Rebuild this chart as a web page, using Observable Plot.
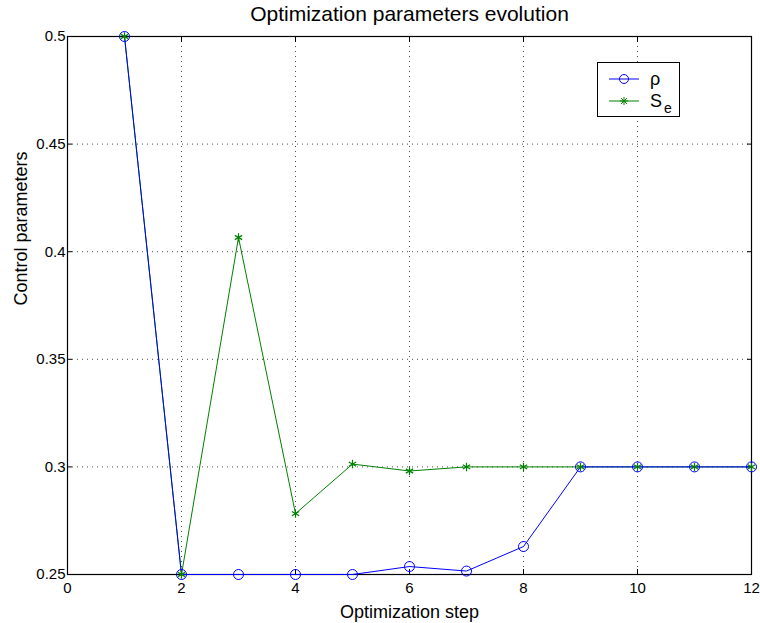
<!DOCTYPE html>
<html><head><meta charset="utf-8">
<script src="https://cdn.jsdelivr.net/npm/d3@7"></script>
<script src="https://cdn.jsdelivr.net/npm/@observablehq/plot@0.6"></script>
<style>
body{margin:0;background:#fff;font-family:"Liberation Sans",Arial,sans-serif;}
#wrap{position:relative;width:760px;height:623px;}
#legend{position:absolute;left:597px;top:62px;width:81px;height:53px;border:1.5px solid #000;background:#fff;}
</style></head><body>
<div id="wrap"><div id="chart"></div>
<div id="legend">
<svg width="81" height="53" style="position:absolute;left:0;top:0;overflow:visible">
<line x1="11" x2="41" y1="16" y2="16" stroke="#0000ff" stroke-width="1"/>
<circle cx="26" cy="16" r="4.5" fill="none" stroke="#0000ff" stroke-width="1"/>
<line x1="11" x2="41" y1="38" y2="38" stroke="#008000" stroke-width="1"/>
<g stroke="#008000" stroke-width="1"><line x1="22" x2="30" y1="38" y2="38"/><line x1="26" x2="26" y1="34" y2="42"/><line x1="23" x2="29" y1="35" y2="41"/><line x1="23" x2="29" y1="41" y2="35"/></g>
<text x="52" y="22" font-size="18" font-family="Liberation Sans, Arial, sans-serif">ρ</text>
<text x="52" y="44" font-size="18" font-family="Liberation Sans, Arial, sans-serif">S<tspan font-size="14" dx="2" dy="6">e</tspan></text>
</svg>
</div></div>
<script>
const steps = [1,2,3,4,5,6,7,8,9,10,11,12];
const rho = [0.5,0.25,0.25,0.25,0.25,0.2537,0.2516,0.263,0.3,0.3,0.3,0.3];
const se  = [0.5,0.25,0.4066,0.2783,0.3013,0.2981,0.3,0.3,0.3,0.3,0.3,0.3];
const xTicks = [0,2,4,6,8,10,12];
const yTicks = [0.25,0.3,0.35,0.4,0.45,0.5];
const xGrid = [2,4,6,8,10];
const yGrid = [0.3,0.35,0.4,0.45];
const title = "Optimization parameters evolution";
const xLabel = "Optimization step";
const yLabel = "Control parameters";

const rhoData = steps.map((s,i)=>({x:s,y:rho[i]}));
const seData = steps.map((s,i)=>({x:s,y:se[i]}));
const fmt = d => String(+d.toFixed(2));
const font = "Liberation Sans, Arial, sans-serif";

const chart = Plot.plot({
  width:760, height:623,
  marginLeft:67, marginRight:9, marginTop:36, marginBottom:49,
  style:{fontFamily:font, fontSize:"15px", color:"#000", background:"#fff"},
  x:{domain:[0,12]},
  y:{domain:[0.25,0.5]},
  marks:[
    Plot.ruleX(xGrid,{stroke:"#000",strokeOpacity:0.7,strokeDasharray:"1,4"}),
    Plot.ruleY(yGrid,{stroke:"#000",strokeOpacity:0.7,strokeDasharray:"1,4"}),
    Plot.axisX(xTicks,{anchor:"bottom",tickSize:0,tickPadding:8,tickFormat:fmt,fontSize:15,label:null}),
    Plot.axisY(yTicks,{anchor:"left",tickSize:0,tickPadding:2,tickFormat:fmt,fontSize:15,label:null}),
    Plot.axisX(xTicks,{anchor:"bottom",tickSize:-5,tickFormat:()=>"",label:null}),
    Plot.axisX(xTicks,{anchor:"top",tickSize:-5,tickFormat:()=>"",label:null}),
    Plot.axisY(yTicks,{anchor:"left",tickSize:-5,tickFormat:()=>"",label:null}),
    Plot.axisY(yTicks,{anchor:"right",tickSize:-5,tickFormat:()=>"",label:null}),
    Plot.frame({stroke:"#000",strokeWidth:1.2}),
    Plot.line(seData,{x:"x",y:"y",stroke:"#008000",strokeWidth:1}),
    Plot.line(rhoData,{x:"x",y:"y",stroke:"#0000ff",strokeWidth:1}),
    Plot.dot(rhoData,{x:"x",y:"y",r:5,stroke:"#0000ff",fill:"none",strokeWidth:1}),
    Plot.dot(seData,{x:"x",y:"y",symbol:"asterisk",r:4,stroke:"#008000",strokeWidth:1.2}),
    Plot.text([title],{frameAnchor:"top",dy:-30,fontSize:21,fill:"#000"}),
    Plot.text([xLabel],{frameAnchor:"bottom",dy:43,fontSize:18,fill:"#000"}),
    Plot.text([yLabel],{frameAnchor:"left",dx:-46,rotate:-90,fontSize:18,fill:"#000"})
  ]
});
document.getElementById("chart").appendChild(chart);
</script>
</body></html>
